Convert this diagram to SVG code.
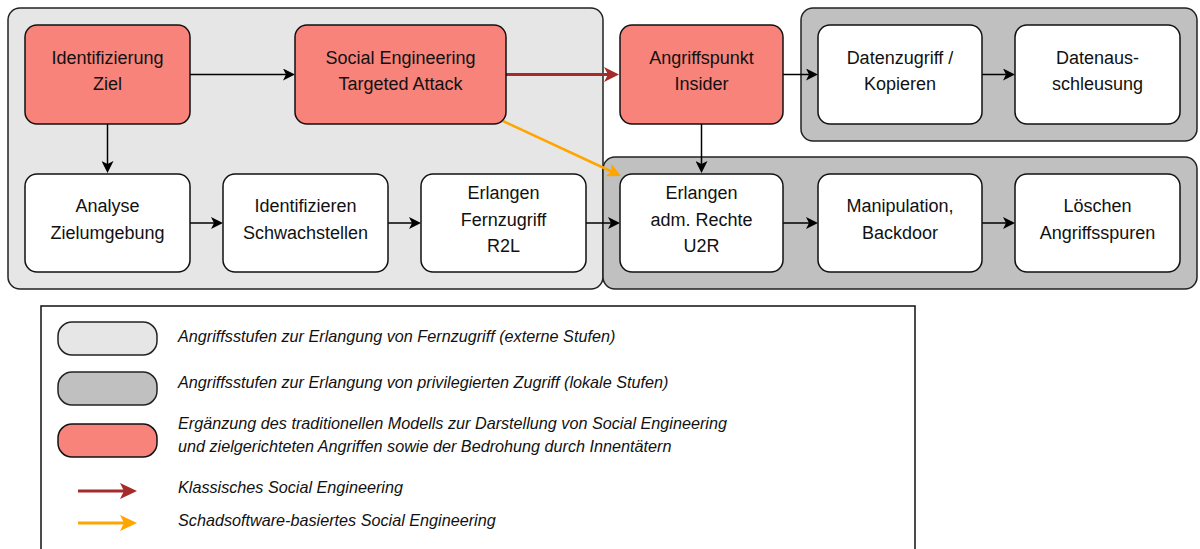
<svg xmlns="http://www.w3.org/2000/svg" width="1200" height="549" viewBox="0 0 1200 549">
  <style>
    .bg { fill: #ffffff; }
    .stage-ext { fill: #e6e6e6; stroke: #222; stroke-width: 1.5; }
    .stage-loc { fill: #c0c0c0; stroke: #222; stroke-width: 1.5; }
    .box { fill: #ffffff; stroke: #111; stroke-width: 1.5; }
    .box-se { fill: #f8837a; stroke: #111; stroke-width: 1.5; }
    .lbl { font-family: "Liberation Sans", Arial, Helvetica, sans-serif; font-size: 18px; fill: #111; text-anchor: middle; }
    .leg { font-family: "Liberation Sans", Arial, Helvetica, sans-serif; font-size: 16.2px; font-style: italic; fill: #111; }
    .flow { fill: none; stroke: #000; stroke-width: 1.5; }
    .flow-red { fill: none; stroke: #a52a2a; stroke-width: 3; }
    .flow-org { fill: none; stroke: #ffa500; stroke-width: 2.5; }
  </style>
  <defs>
    <marker id="ah" markerUnits="userSpaceOnUse" viewBox="0 0 12 12" markerWidth="12" markerHeight="12" refX="3" refY="6" orient="auto">
      <path d="M0,0 L12,6 L0,12 L3,6 z" fill="#000"/>
    </marker>
    <marker id="ah-red" markerUnits="userSpaceOnUse" viewBox="0 0 15 15" markerWidth="15" markerHeight="15" refX="4" refY="7.5" orient="auto">
      <path d="M0,0 L15,7.5 L0,15 L4,7.5 z" fill="#a52a2a"/>
    </marker>
    <marker id="ah-org" markerUnits="userSpaceOnUse" viewBox="0 0 14 14" markerWidth="14" markerHeight="14" refX="3.5" refY="7" orient="auto">
      <path d="M0,0 L14,7 L0,14 L3.5,7 z" fill="#ffa500"/>
    </marker>
    <marker id="ah-red-l" markerUnits="userSpaceOnUse" viewBox="0 0 17 16" markerWidth="17" markerHeight="16" refX="4" refY="8" orient="auto">
      <path d="M0,0 L17,8 L0,16 L4,8 z" fill="#a52a2a"/>
    </marker>
    <marker id="ah-org-l" markerUnits="userSpaceOnUse" viewBox="0 0 17 16" markerWidth="17" markerHeight="16" refX="4" refY="8" orient="auto">
      <path d="M0,0 L17,8 L0,16 L4,8 z" fill="#ffa500"/>
    </marker>
  </defs>

  <rect class="bg" x="0" y="0" width="1200" height="549"/>

  <!-- stage containers -->
  <g id="stages">
    <rect id="stage-external" class="stage-ext" x="8" y="8" width="595" height="281" rx="12"/>
    <rect id="stage-local-data" class="stage-loc" x="801" y="8" width="396" height="133" rx="12"/>
    <rect id="stage-local" class="stage-loc" x="603" y="157" width="594" height="132" rx="12"/>
  </g>

  <!-- connectors -->
  <g id="connectors">
    <line class="flow" x1="190" y1="74.5" x2="286" y2="74.5" marker-end="url(#ah)"/>
    <line class="flow" x1="107.5" y1="124" x2="107.5" y2="164" marker-end="url(#ah)"/>
    <line class="flow" x1="190" y1="223" x2="214" y2="223" marker-end="url(#ah)"/>
    <line class="flow" x1="388" y1="223" x2="412" y2="223" marker-end="url(#ah)"/>
    <line class="flow" x1="586" y1="223" x2="611" y2="223" marker-end="url(#ah)"/>
    <line class="flow" x1="783" y1="223" x2="809" y2="223" marker-end="url(#ah)"/>
    <line class="flow" x1="982" y1="223" x2="1006" y2="223" marker-end="url(#ah)"/>
    <line class="flow" x1="783" y1="74.5" x2="809" y2="74.5" marker-end="url(#ah)"/>
    <line class="flow" x1="982" y1="74.5" x2="1006" y2="74.5" marker-end="url(#ah)"/>
    <line class="flow" x1="701.5" y1="124" x2="701.5" y2="164" marker-end="url(#ah)"/>
    <line class="flow-red" x1="505" y1="74.5" x2="608" y2="74.5" marker-end="url(#ah-red)"/>
    <line class="flow-org" x1="503" y1="121" x2="611.5" y2="171.5" marker-end="url(#ah-org)"/>
  </g>

  <!-- nodes -->
  <g id="n-identifizierung">
    <rect class="box-se" x="25" y="25" width="165" height="99" rx="12"/>
    <text class="lbl" x="107.5" y="64">Identifizierung</text>
    <text class="lbl" x="107.5" y="90">Ziel</text>
  </g>
  <g id="n-social">
    <rect class="box-se" x="295" y="25" width="211" height="99" rx="12"/>
    <text class="lbl" x="400.5" y="64">Social Engineering</text>
    <text class="lbl" x="400.5" y="90">Targeted Attack</text>
  </g>
  <g id="n-insider">
    <rect class="box-se" x="620" y="25" width="163" height="99" rx="12"/>
    <text class="lbl" x="701.5" y="64">Angriffspunkt</text>
    <text class="lbl" x="701.5" y="90">Insider</text>
  </g>
  <g id="n-datenzugriff">
    <rect class="box" x="818" y="25" width="164" height="99" rx="12"/>
    <text class="lbl" x="900" y="64">Datenzugriff /</text>
    <text class="lbl" x="900" y="90">Kopieren</text>
  </g>
  <g id="n-ausschleusung">
    <rect class="box" x="1015" y="25" width="165" height="99" rx="12"/>
    <text class="lbl" x="1097.5" y="64">Datenaus-</text>
    <text class="lbl" x="1097.5" y="90">schleusung</text>
  </g>
  <g id="n-analyse">
    <rect class="box" x="25" y="174" width="165" height="98" rx="12"/>
    <text class="lbl" x="107.5" y="212">Analyse</text>
    <text class="lbl" x="107.5" y="239">Zielumgebung</text>
  </g>
  <g id="n-schwachstellen">
    <rect class="box" x="223" y="174" width="165" height="98" rx="12"/>
    <text class="lbl" x="305.5" y="212">Identifizieren</text>
    <text class="lbl" x="305.5" y="239">Schwachstellen</text>
  </g>
  <g id="n-fernzugriff">
    <rect class="box" x="421" y="174" width="165" height="98" rx="12"/>
    <text class="lbl" x="503.5" y="199">Erlangen</text>
    <text class="lbl" x="503.5" y="226">Fernzugriff</text>
    <text class="lbl" x="503.5" y="252">R2L</text>
  </g>
  <g id="n-rechte">
    <rect class="box" x="620" y="174" width="163" height="98" rx="12"/>
    <text class="lbl" x="701.5" y="199">Erlangen</text>
    <text class="lbl" x="701.5" y="226">adm. Rechte</text>
    <text class="lbl" x="701.5" y="252">U2R</text>
  </g>
  <g id="n-manipulation">
    <rect class="box" x="818" y="174" width="164" height="98" rx="12"/>
    <text class="lbl" x="900" y="212">Manipulation,</text>
    <text class="lbl" x="900" y="239">Backdoor</text>
  </g>
  <g id="n-loeschen">
    <rect class="box" x="1015" y="174" width="165" height="98" rx="12"/>
    <text class="lbl" x="1097.5" y="212">Löschen</text>
    <text class="lbl" x="1097.5" y="239">Angriffsspuren</text>
  </g>

  <!-- legend -->
  <g id="legend">
    <rect x="41" y="306" width="874" height="260" fill="#fff" stroke="#111" stroke-width="1.5"/>
    <rect class="stage-ext" x="58" y="322" width="99" height="33" rx="14"/>
    <rect class="stage-loc" x="58" y="372" width="99" height="33" rx="14"/>
    <rect class="box-se" x="58" y="424" width="99" height="33" rx="14"/>
    <line x1="78" y1="491" x2="124" y2="491" stroke="#a52a2a" stroke-width="3" marker-end="url(#ah-red-l)"/>
    <line x1="78" y1="523" x2="124" y2="523" stroke="#ffa500" stroke-width="3" marker-end="url(#ah-org-l)"/>
    <text class="leg" x="178" y="342">Angriffsstufen zur Erlangung von Fernzugriff (externe Stufen)</text>
    <text class="leg" x="178" y="388">Angriffsstufen zur Erlangung von privilegierten Zugriff (lokale Stufen)</text>
    <text class="leg" x="178" y="429">Ergänzung des traditionellen Modells zur Darstellung von Social Engineering</text>
    <text class="leg" x="178" y="452">und zielgerichteten Angriffen sowie der Bedrohung durch Innentätern</text>
    <text class="leg" x="178" y="493">Klassisches Social Engineering</text>
    <text class="leg" x="178" y="526">Schadsoftware-basiertes Social Engineering</text>
  </g>
</svg>
